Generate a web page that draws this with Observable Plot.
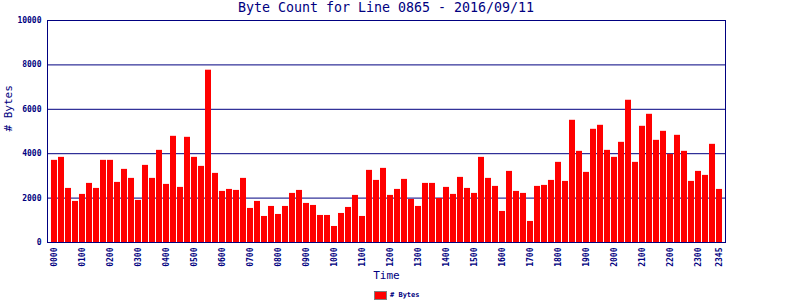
<!DOCTYPE html>
<html>
<head>
<meta charset="utf-8">
<script src="https://cdn.jsdelivr.net/npm/d3@7"></script>
<script src="https://cdn.jsdelivr.net/npm/@observablehq/plot@0.6"></script>
<style>
  body { margin: 0; background: #ffffff; }
  #wrap { position: relative; width: 800px; height: 300px; overflow: hidden; background: #ffffff; }
  #wrap svg { position: absolute; left: 0; top: 0; }
  #title { position: absolute; left: 47px; width: 678px; top: 0; text-align: center;
           font-family: "DejaVu Sans Mono", monospace; font-size: 13.3px; font-weight: normal; line-height: 16px; color: #000080; }
  #swatch { position: absolute; left: 374px; top: 291px; width: 13px; height: 9px;
            box-sizing: border-box; border: 1px solid #808080; background: #ff0000; }
  #legtext { position: absolute; left: 390px; top: 291px; line-height: 9px;
             font-family: "DejaVu Sans Mono", monospace; font-weight: bold; font-size: 7px; color: #000080; white-space: pre; }
</style>
</head>
<body>
<div id="wrap">
  <div id="title">Byte Count for Line 0865 - 2016/09/11</div>
  <div id="swatch"></div>
  <div id="legtext"># Bytes</div>
</div>
<script>
const times = [
  "0000","0015","0030","0045","0100","0115","0130","0145","0200","0215","0230","0245",
  "0300","0315","0330","0345","0400","0415","0430","0445","0500","0515","0530","0545",
  "0600","0615","0630","0645","0700","0715","0730","0745","0800","0815","0830","0845",
  "0900","0915","0930","0945","1000","1015","1030","1045","1100","1115","1130","1145",
  "1200","1215","1230","1245","1300","1315","1330","1345","1400","1415","1430","1445",
  "1500","1515","1530","1545","1600","1615","1630","1645","1700","1715","1730","1745",
  "1800","1815","1830","1845","1900","1915","1930","1945","2000","2015","2030","2045",
  "2100","2115","2130","2145","2200","2215","2230","2245","2300","2315","2330","2345"
];
const bytes = [
  3700, 3835, 2436, 1850, 2166, 2662, 2436, 3700, 3700, 2707, 3294, 2888,
  1895, 3474, 2888, 4151, 2617, 4783, 2482, 4738, 3835, 3429, 7761, 3113,
  2301, 2391, 2346, 2888, 1534, 1850, 1173, 1624, 1263, 1624, 2211, 2346,
  1760, 1669, 1218, 1218, 722, 1308, 1579, 2121, 1173, 3249, 2797, 3339,
  2121, 2391, 2843, 1940, 1624, 2662, 2662, 1985, 2482, 2166, 2933, 2436,
  2211, 3835, 2888, 2527, 1399, 3203, 2301, 2211, 948, 2527, 2572, 2797,
  3610, 2752, 5505, 4106, 3158, 5099, 5279, 4151, 3835, 4512, 6407, 3610,
  5234, 5775, 4602, 5008, 3971, 4828, 4106, 2752, 3203, 3023, 4422, 2391
];
const xTickLabels = [
  "0000","0100","0200","0300","0400","0500","0600","0700","0800","0900","1000","1100",
  "1200","1300","1400","1500","1600","1700","1800","1900","2000","2100","2200","2300","2345"
];
const yTicks = [0, 2000, 4000, 6000, 8000, 10000];
const xLabel = ["Time"];
const yLabel = ["# Bytes"];

const navy = "#000080";
const table = times.map((t, i) => ({time: t, bytes: bytes[i]}));

const chart = Plot.plot({
  width: 800,
  height: 300,
  marginTop: 20,
  marginBottom: 58,
  marginLeft: 47,
  marginRight: 75,
  style: {
    fontFamily: "'DejaVu Sans Mono', monospace",
    fontSize: "8px",
    fontWeight: "bold",
    color: navy,
    background: "transparent",
    overflow: "visible"
  },
  x: {
    type: "band",
    domain: times,
    paddingInner: 1 / 7,
    paddingOuter: 0.5,
    round: true,
    ticks: xTickLabels,
    tickRotate: -90,
    tickSize: 0,
    tickPadding: 5,
    label: null
  },
  y: {
    domain: [0, 10000],
    ticks: yTicks,
    tickFormat: d => String(d),
    tickSize: 0,
    tickPadding: 6,
    label: null
  },
  marks: [
    Plot.ruleY(yTicks, {stroke: navy, strokeWidth: 1}),
    Plot.barY(table, {x: "time", y: "bytes", fill: "#ff0000"}),
    Plot.frame({stroke: navy, strokeWidth: 1}),
    Plot.text(xLabel, {text: d => d, frameAnchor: "bottom", dy: 36, fontSize: 11, fontWeight: "normal", fill: navy}),
    Plot.text(yLabel, {text: d => d, frameAnchor: "left", dx: -39, rotate: -90, fontSize: 11, fontWeight: "normal", fill: navy})
  ]
});
document.getElementById("wrap").prepend(chart);
</script>
</body>
</html>
